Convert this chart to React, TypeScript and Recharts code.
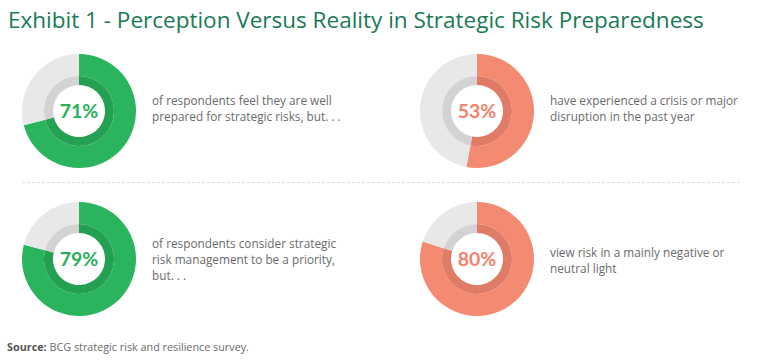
import React from 'react';
import { PieChart, Pie, Cell, Label } from 'recharts';

const titleText = 'Exhibit 1 - Perception Versus Reality in Strategic Risk Preparedness';
const statKeys = ['prepared', 'crisis', 'priority', 'negative'];
const statValues = [71, 53, 79, 80];
const statCaptions = [
  ['of respondents feel they are well', 'prepared for strategic risks, but. . .'],
  ['have experienced a crisis or major', 'disruption in the past year'],
  ['of respondents consider strategic', 'risk management to be a priority,', 'but. . .'],
  ['view risk in a mainly negative or', 'neutral light'],
];
const sourceLabel = 'Source:';
const sourceText = 'BCG strategic risk and resilience survey.';

// colours per panel: [outer fill, inner band fill, text]
const greenTheme = { main: '#2bb45e', band: '#24a052', text: '#29b05b' };
const redTheme = { main: '#f58a72', band: '#df7b66', text: '#f3826b' };
const restMain = '#e8e8e8';
const restBand = '#d3d3d3';
const themes = [greenTheme, redTheme, greenTheme, redTheme];

// donut centres on the page, and caption offset (top row sits a little higher)
const centres = [
  { x: 79, y: 111, dy: -3 },
  { x: 477, y: 111, dy: -3 },
  { x: 79, y: 259, dy: 0 },
  { x: 477, y: 259, dy: 1 },
];

const BOX = 124;
const FONT = '"Open Sans", sans-serif';

function StatPanel({ idx }: { idx: number }) {
  const value = statValues[idx];
  const theme = themes[idx];
  const data = [
    { name: 'share', value },
    { name: 'rest', value: 100 - value },
  ];
  const c = centres[idx];
  return (
    <>
      <div style={{ position: 'absolute', left: c.x - BOX / 2, top: c.y - BOX / 2 }}>
        <PieChart width={BOX} height={BOX} margin={{ top: 0, right: 0, bottom: 0, left: 0 }}>
          <Pie
            data={data}
            dataKey="value"
            nameKey="name"
            startAngle={90}
            endAngle={-270}
            innerRadius={35}
            outerRadius={57}
            stroke="none"
            isAnimationActive={false}
          >
            <Cell fill={theme.main} />
            <Cell fill={restMain} />
          </Pie>
          <Pie
            data={data}
            dataKey="value"
            nameKey="name"
            startAngle={90}
            endAngle={-270}
            innerRadius={26}
            outerRadius={35}
            stroke="none"
            isAnimationActive={false}
          >
            <Cell fill={theme.band} />
            <Cell fill={restBand} />
            <Label
              value={`${value}%`}
              position="center"
              fill={theme.text}
              fontSize={19.5}
              fontWeight={700}
              fontFamily="Lato, sans-serif"
            />
          </Pie>
        </PieChart>
      </div>
      <div
        style={{
          position: 'absolute',
          left: c.x + 73,
          top: c.y - 40 + c.dy,
          height: 80,
          display: 'flex',
          flexDirection: 'column',
          justifyContent: 'center',
          fontFamily: FONT,
          fontSize: 11.8,
          lineHeight: '16.2px',
          color: '#6b6b6b',
          whiteSpace: 'nowrap',
        }}
      >
        {statCaptions[idx].map((line) => (
          <div key={line}>{line}</div>
        ))}
      </div>
    </>
  );
}

export default function App() {
  return (
    <div
      style={{
        position: 'absolute',
        left: 0,
        top: 0,
        width: 768,
        height: 364,
        background: '#ffffff',
        overflow: 'hidden',
      }}
    >
      <div
        style={{
          position: 'absolute',
          left: 8,
          top: 4,
          fontFamily: FONT,
          fontSize: 22.5,
          color: '#197a56',
          whiteSpace: 'nowrap',
        }}
      >
        {titleText}
      </div>

      {statKeys.map((k, i) => (
        <StatPanel key={k} idx={i} />
      ))}

      <div
        style={{
          position: 'absolute',
          left: 22,
          top: 182,
          width: 718,
          borderTop: '1px dashed #dddddd',
        }}
      />

      <div
        style={{
          position: 'absolute',
          left: 7,
          top: 339,
          fontFamily: FONT,
          fontSize: 10.8,
          color: '#6b6b6b',
          whiteSpace: 'nowrap',
        }}
      >
        <span style={{ fontWeight: 700, color: '#555555' }}>{sourceLabel}</span> {sourceText}
      </div>
    </div>
  );
}
